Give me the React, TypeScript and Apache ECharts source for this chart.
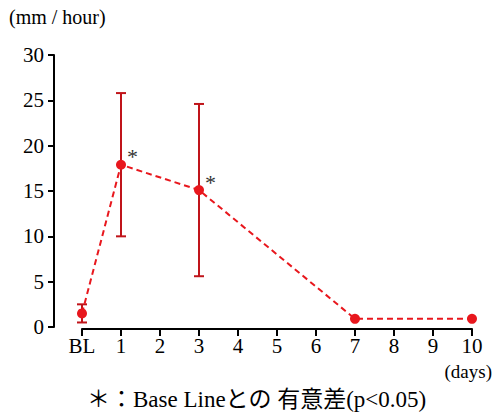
import React, { useEffect, useRef } from "react";
import * as echarts from "echarts";

const days = [0, 1, 3, 7, 10];
const means = [1.5, 17.9, 15.1, 0.9, 0.9];
const sds = [1.0, 7.9, 9.5, 0, 0];
const significant = [false, true, true, false, false];
const xTicks = ["BL", "1", "2", "3", "4", "5", "6", "7", "8", "9", "10"];

const SERIF = "'Liberation Serif', 'Times New Roman', serif";
const RED = "#e8171d";
const DARKRED = "#c0141a";

export default function App() {
  const ref = useRef<HTMLDivElement>(null);
  useEffect(() => {
    const chart = echarts.init(ref.current!, null, { renderer: "svg" });
    const lineData = days.map((d, i) => ({
      value: [d, means[i]],
      label: significant[i]
        ? {
            show: true,
            formatter: "*",
            position: [11, -14],
            fontSize: 22,
            color: "#333",
            fontFamily: SERIF,
          }
        : { show: false },
    }));
    const errData = days
      .map((d, i) => [d, means[i] - sds[i], means[i] + sds[i]])
      .filter((e) => e[2] - e[1] > 0);
    chart.setOption({
      animation: false,
      textStyle: { fontFamily: SERIF, color: "#000" },
      grid: { left: 82, right: 28, top: 55, bottom: 88 },
      xAxis: {
        type: "value",
        min: 0,
        max: 10,
        interval: 1,
        offset: 2,
        axisLine: { show: true, onZero: false, lineStyle: { color: "#000", width: 2 } },
        axisTick: { show: true, length: 7, lineStyle: { color: "#000", width: 2 } },
        axisLabel: {
          formatter: (v: number) => xTicks[v] ?? String(v),
          fontFamily: SERIF,
          fontSize: 21,
          color: "#000",
          margin: 6,
        },
        splitLine: { show: false },
      },
      yAxis: {
        type: "value",
        min: 0,
        max: 30,
        interval: 5,
        offset: 28,
        axisLine: { show: true, onZero: false, lineStyle: { color: "#000", width: 2 } },
        axisTick: { show: true, length: 6, lineStyle: { color: "#000", width: 2 } },
        axisLabel: {
          formatter: (v: number) => String(v),
          fontFamily: SERIF,
          fontSize: 21,
          color: "#000",
          margin: 10,
        },
        splitLine: { show: false },
      },
      graphic: [
        {
          type: "text",
          left: 9,
          top: 7,
          style: { text: "(mm / hour)", font: `20px ${SERIF}`, fill: "#000" },
        },
        {
          type: "text",
          right: 8,
          top: 362,
          style: { text: "(days)", font: `19px ${SERIF}`, fill: "#000" },
        },
        {
          type: "text",
          left: 87,
          top: 388,
          style: {
            text: "＊：Base Lineとの 有意差(p<0.05)",
            font: `23px 'Liberation Serif', 'Noto Sans CJK JP', serif`,
            fill: "#000",
          },
        },
      ],
      series: [
        {
          type: "custom",
          data: errData,
          z: 1,
          renderItem: (params: any, api: any) => {
            const top = api.coord([api.value(0), api.value(2)]);
            const bot = api.coord([api.value(0), api.value(1)]);
            const cap = 5;
            const style = { stroke: DARKRED, lineWidth: 2 };
            return {
              type: "group",
              children: [
                { type: "line", shape: { x1: top[0], y1: top[1], x2: bot[0], y2: bot[1] }, style },
                { type: "line", shape: { x1: top[0] - cap, y1: top[1], x2: top[0] + cap, y2: top[1] }, style },
                { type: "line", shape: { x1: bot[0] - cap, y1: bot[1], x2: bot[0] + cap, y2: bot[1] }, style },
              ],
            };
          },
        },
        {
          type: "line",
          data: lineData,
          z: 3,
          symbol: "circle",
          symbolSize: 10,
          itemStyle: { color: RED },
          lineStyle: { color: RED, width: 2, type: [6, 4] },
        },
      ],
    });
    return () => chart.dispose();
  }, []);
  return (
    <div
      ref={ref}
      style={{ position: "fixed", left: 0, top: 0, width: 500, height: 415, background: "#fff" }}
    />
  );
}
